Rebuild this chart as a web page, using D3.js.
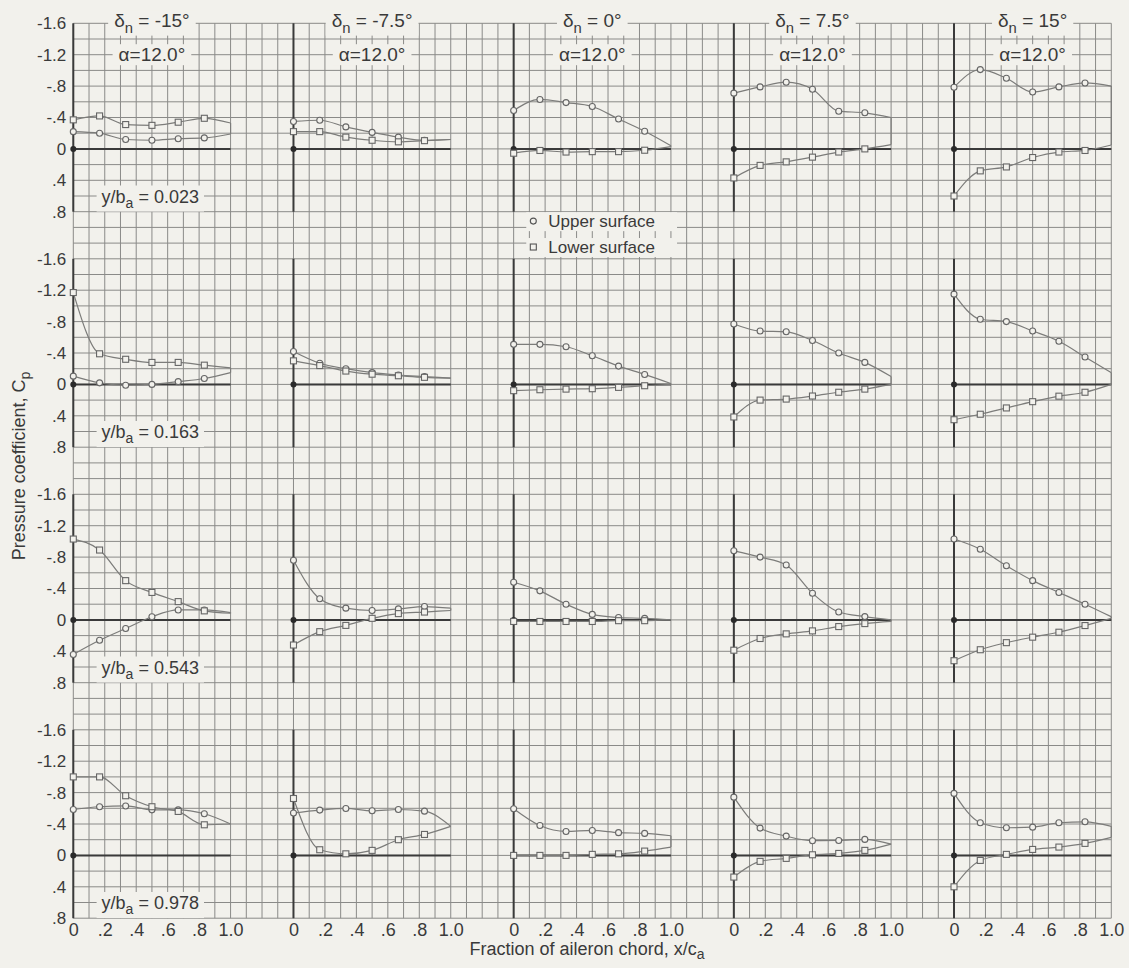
<!DOCTYPE html>
<html>
<head>
<meta charset="utf-8">
<script src="https://cdn.jsdelivr.net/npm/d3@7"></script>
<style>
  html, body { margin: 0; padding: 0; background: #f2f1ec; }
  svg { display: block; }
</style>
</head>
<body>
<svg id="chart" width="1129" height="968"></svg>
<script>
// ---- data -----------------------------------------------------------
// chordwise orifice stations, fraction of aileron chord
const xStations = [0, 0.167, 0.333, 0.5, 0.667, 0.833];
// nose deflections (columns) and spanwise stations (rows)
const noseDeflections = ["-15°", "-7.5°", "0°", "7.5°", "15°"];
const spanStations = ["0.023", "0.163", "0.543", "0.978"];
const angleOfAttack = "12.0°";

const cpTicks = [-1.6, -1.2, -0.8, -0.4, 0, 0.4, 0.8];
const cpTickLabels = ["-1.6", "-1.2", "-.8", "-.4", "0", ".4", ".8"];
const chordTicks = [0, 0.2, 0.4, 0.6, 0.8, 1.0];
const chordTickLabels = ["0", ".2", ".4", ".6", ".8", "1.0"];

// pressure coefficients, one row per nose deflection (-15, -7.5, 0, 7.5, 15)
const upper023 = [
  [-0.22, -0.20, -0.12, -0.11, -0.13, -0.14],
  [-0.35, -0.365, -0.28, -0.21, -0.15, -0.11],
  [-0.49, -0.63, -0.59, -0.54, -0.38, -0.225],
  [-0.71, -0.79, -0.85, -0.76, -0.48, -0.46],
  [-0.785, -1.01, -0.90, -0.725, -0.79, -0.84]
];
const lower023 = [
  [-0.37, -0.42, -0.31, -0.30, -0.34, -0.39],
  [-0.22, -0.22, -0.15, -0.11, -0.09, -0.105],
  [0.055, 0.02, 0.04, 0.035, 0.035, 0.017],
  [0.37, 0.21, 0.165, 0.105, 0.04, 0.0],
  [0.60, 0.28, 0.23, 0.11, 0.04, 0.02]
];
const upper163 = [
  [-0.105, -0.02, 0.01, 0.0, -0.035, -0.075],
  [-0.42, -0.27, -0.20, -0.15, -0.12, -0.10],
  [-0.51, -0.51, -0.48, -0.365, -0.233, -0.127],
  [-0.77, -0.68, -0.67, -0.56, -0.40, -0.28],
  [-1.15, -0.83, -0.80, -0.68, -0.55, -0.35]
];
const lower163 = [
  [-1.17, -0.39, -0.32, -0.28, -0.28, -0.245],
  [-0.30, -0.24, -0.17, -0.13, -0.11, -0.09],
  [0.08, 0.068, 0.06, 0.055, 0.038, 0.017],
  [0.415, 0.20, 0.187, 0.148, 0.10, 0.06],
  [0.45, 0.38, 0.30, 0.22, 0.15, 0.10]
];
const upper543 = [
  [0.44, 0.26, 0.11, -0.04, -0.127, -0.127],
  [-0.76, -0.27, -0.15, -0.12, -0.14, -0.17],
  [-0.48, -0.37, -0.20, -0.07, -0.03, -0.02],
  [-0.88, -0.80, -0.70, -0.34, -0.10, -0.042],
  [-1.03, -0.90, -0.69, -0.50, -0.35, -0.20]
];
const lower543 = [
  [-1.03, -0.89, -0.50, -0.35, -0.233, -0.115],
  [0.32, 0.15, 0.07, -0.02, -0.08, -0.10],
  [0.02, 0.02, 0.02, 0.02, 0.01, 0.01],
  [0.386, 0.237, 0.178, 0.14, 0.085, 0.047],
  [0.52, 0.38, 0.29, 0.22, 0.157, 0.072]
];
const upper978 = [
  [-0.585, -0.62, -0.63, -0.58, -0.58, -0.53],
  [-0.54, -0.577, -0.598, -0.568, -0.585, -0.564],
  [-0.594, -0.38, -0.305, -0.318, -0.29, -0.28],
  [-0.742, -0.348, -0.246, -0.187, -0.19, -0.204],
  [-0.79, -0.416, -0.352, -0.36, -0.416, -0.428]
];
const lower978 = [
  [-1.0, -1.0, -0.76, -0.62, -0.56, -0.39],
  [-0.725, -0.072, -0.02, -0.064, -0.20, -0.267],
  [0.0, 0.0, 0.0, -0.013, -0.02, -0.055],
  [0.276, 0.076, 0.038, -0.008, -0.025, -0.064],
  [0.40, 0.064, -0.013, -0.076, -0.106, -0.153]
];
// faired values at the trailing edge (x/c = 1.0): [upper, lower]
const trailingEdge023 = [[-0.19, -0.33], [-0.12, -0.12], [-0.04, -0.03], [-0.40, -0.055], [-0.80, -0.05]];
const trailingEdge163 = [[-0.15, -0.21], [-0.08, -0.08], [-0.01, 0.0], [-0.10, 0.0], [-0.15, 0.0]];
const trailingEdge543 = [[-0.093, -0.085], [-0.15, -0.12], [0.0, 0.0], [0.0, 0.02], [-0.04, -0.02]];
const trailingEdge978 = [[-0.40, -0.40], [-0.37, -0.37], [-0.25, -0.106], [-0.144, -0.144], [-0.37, -0.23]];

const upperRows = [upper023, upper163, upper543, upper978];
const lowerRows = [lower023, lower163, lower543, lower978];
const teRows = [trailingEdge023, trailingEdge163, trailingEdge543, trailingEdge978];

// ---- layout ---------------------------------------------------------
const W = 1129, H = 968;
const paper = "#f2f1ec";
const ink = "#3a3a3a";
const gridInk = "#8a8a88";
const curveInk = "#7c7c7a";
const font = "'Liberation Sans', Arial, sans-serif";

const cellX = 15.727, cellY = 15.7;          // graph-paper cell
const gridLeft = 73.3, gridTop = 23.3;
const gridCols = 66, gridRows = 57;
const colStep = 14, rowStep = 15;             // panel pitch, in cells

const svg = d3.select("#chart");
svg.append("rect").attr("width", W).attr("height", H).attr("fill", paper);

// graph paper
const paperG = svg.append("g").attr("stroke", gridInk).attr("stroke-width", 1);
const gridRight = gridLeft + gridCols * cellX;
const gridBottom = gridTop + gridRows * cellY;
paperG.selectAll("line.v").data(d3.range(gridCols + 1)).join("line")
  .attr("class", "v")
  .attr("x1", i => gridLeft + i * cellX).attr("x2", i => gridLeft + i * cellX)
  .attr("y1", gridTop).attr("y2", gridBottom);
paperG.selectAll("line.h").data(d3.range(gridRows + 1)).join("line")
  .attr("class", "h")
  .attr("y1", j => gridTop + j * cellY).attr("y2", j => gridTop + j * cellY)
  .attr("x1", gridLeft).attr("x2", gridRight);

const labelLayer = svg.append("g");

// text with an opaque paper patch behind it
function boxedText(parent, x, y, anchor, size, parts, pad) {
  const g = parent.append("g");
  const t = g.append("text")
    .attr("x", x).attr("y", y)
    .attr("text-anchor", anchor)
    .attr("font-family", font).attr("font-size", size)
    .attr("fill", ink);
  parts.forEach(p => {
    const ts = t.append("tspan").text(p.text);
    if (p.sub) ts.attr("font-size", size * 0.78).attr("dy", size * 0.28);
    if (p.after) ts.attr("dy", -size * 0.28);
  });
  const b = t.node().getBBox();
  const px = pad ? pad[0] : 5, py = pad ? pad[1] : 1;
  g.insert("rect", "text")
    .attr("x", b.x - px).attr("y", b.y - py)
    .attr("width", b.width + 2 * px).attr("height", b.height + 2 * py)
    .attr("fill", paper);
  return g;
}

const line = d3.line().curve(d3.curveMonotoneX);

for (let r = 0; r < 4; r++) {
  for (let c = 0; c < 5; c++) {
    const px0 = gridLeft + c * colStep * cellX;
    const pyTop = gridTop + r * rowStep * cellY;
    const x = d3.scaleLinear().domain([0, 1]).range([px0, px0 + 10 * cellX]);
    const y = d3.scaleLinear().domain([-1.6, 0.8]).range([pyTop, pyTop + 12 * cellY]);
    const g = svg.append("g");

    // axes of the panel
    g.append("line")
      .attr("x1", x(0)).attr("x2", x(0)).attr("y1", y(-1.6)).attr("y2", y(0.8))
      .attr("stroke", "#3a3a3a").attr("stroke-width", 2);
    g.append("line")
      .attr("x1", x(0)).attr("x2", x(1)).attr("y1", y(0)).attr("y2", y(0))
      .attr("stroke", "#3a3a3a").attr("stroke-width", 2);

    const up = upperRows[r][c], lo = lowerRows[r][c], te = teRows[r][c];
    const upPts = xStations.map((xs, i) => [x(xs), y(up[i])]).concat([[x(1), y(te[0])]]);
    const loPts = xStations.map((xs, i) => [x(xs), y(lo[i])]).concat([[x(1), y(te[1])]]);

    const curves = g.append("g").attr("fill", "none").attr("stroke", curveInk).attr("stroke-width", 1.2);
    curves.append("path").attr("d", line(upPts));
    curves.append("path").attr("d", line(loPts));
    curves.append("line")
      .attr("x1", x(1)).attr("x2", x(1)).attr("y1", y(te[0])).attr("y2", y(te[1]));

    // origin point
    g.append("circle").attr("cx", x(0)).attr("cy", y(0)).attr("r", 3).attr("fill", "#2a2a2a");

    // upper surface: circles, lower surface: squares
    g.selectAll("circle.up").data(xStations).join("circle")
      .attr("class", "up")
      .attr("cx", d => x(d)).attr("cy", (d, i) => y(up[i])).attr("r", 3)
      .attr("fill", paper).attr("stroke", "#666").attr("stroke-width", 1.1);
    g.selectAll("rect.lo").data(xStations).join("rect")
      .attr("class", "lo")
      .attr("x", d => x(d) - 3).attr("y", (d, i) => y(lo[i]) - 3)
      .attr("width", 6).attr("height", 6)
      .attr("fill", paper).attr("stroke", "#666").attr("stroke-width", 1.1);

    // spanwise station label
    if (c === 0) {
      boxedText(labelLayer, x(0.18), y(0.6) + 6.5, "start", 18,
        [{ text: "y/b" }, { text: "a", sub: true }, { text: " = " + spanStations[r], after: true }], [5, 1]);
    }
    // column headings
    if (r === 0) {
      boxedText(labelLayer, x(0.5), y(-1.6) + 4, "middle", 19,
        [{ text: "δ" }, { text: "n", sub: true }, { text: " = " + noseDeflections[c], after: true }], [6, 0]);
      boxedText(labelLayer, x(0.5), y(-1.2) + 6.5, "middle", 19,
        [{ text: "α=" + angleOfAttack }], [6, 0]);
    }
    // legend
    if (r === 0 && c === 2) {
      const lg = labelLayer.append("g");
      boxedText(lg, x(0.22), y(0.92) + 6, "start", 17, [{ text: "Upper surface" }], [22, 0]);
      boxedText(lg, x(0.22), y(1.25) + 6, "start", 17, [{ text: "Lower surface" }], [22, 0]);
      lg.append("circle").attr("cx", x(0.125)).attr("cy", y(0.92)).attr("r", 3)
        .attr("fill", paper).attr("stroke", "#555").attr("stroke-width", 1.1);
      lg.append("rect").attr("x", x(0.125) - 3).attr("y", y(1.25) - 3).attr("width", 6).attr("height", 6)
        .attr("fill", paper).attr("stroke", "#555").attr("stroke-width", 1.1);
    }
    // pressure-coefficient tick labels on the first column
    if (c === 0) {
      const ax = svg.append("g").attr("transform", `translate(${x(0)},0)`)
        .call(d3.axisLeft(y).tickValues(cpTicks).tickFormat((d, i) => cpTickLabels[i])
          .tickSize(0).tickPadding(7));
      ax.select(".domain").remove();
      ax.selectAll("text").attr("font-family", font).attr("font-size", 17).attr("fill", ink);
    }
    // chord tick labels under the last row
    if (r === 3) {
      const ax = svg.append("g").attr("transform", `translate(0,${y(0.8)})`)
        .call(d3.axisBottom(x).tickValues(chordTicks).tickFormat((d, i) => chordTickLabels[i])
          .tickSize(0).tickPadding(5));
      ax.select(".domain").remove();
      ax.selectAll("text").attr("font-family", font).attr("font-size", 18).attr("fill", ink);
    }
  }
}

// axis titles
const yTitle = svg.append("text")
  .attr("transform", "translate(25,466) rotate(-90)")
  .attr("text-anchor", "middle")
  .attr("font-family", font).attr("font-size", 18).attr("fill", ink);
yTitle.append("tspan").text("Pressure coefficient, C");
yTitle.append("tspan").text("p").attr("font-size", 14).attr("dy", 5);

const xTitle = svg.append("text")
  .attr("x", 587).attr("y", 955)
  .attr("text-anchor", "middle")
  .attr("font-family", font).attr("font-size", 18).attr("fill", ink);
xTitle.append("tspan").text("Fraction of aileron chord, x/c");
xTitle.append("tspan").text("a").attr("font-size", 14).attr("dy", 4);
</script>
</body>
</html>
